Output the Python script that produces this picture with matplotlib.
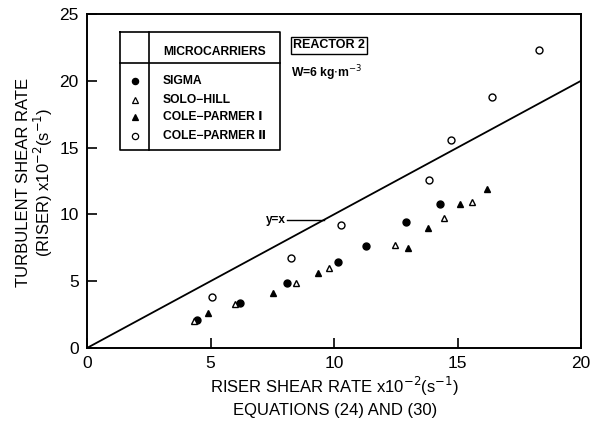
import matplotlib
matplotlib.use("Agg")
import matplotlib.pyplot as plt
from matplotlib.lines import Line2D

plt.rcParams['font.family'] = ['Liberation Sans', 'DejaVu Sans']

# Data (x = riser shear rate x1e-2, y = turbulent shear rate x1e-2)
sigma_x = [4.45, 6.2, 8.1, 10.15, 11.3, 12.9, 14.3]
sigma_y = [2.1, 3.4, 4.9, 6.4, 7.65, 9.45, 10.8]
solo_x = [4.35, 6.0, 8.45, 9.8, 12.45, 14.45, 15.6]
solo_y = [2.0, 3.3, 4.9, 6.0, 7.7, 9.7, 10.95]
cp1_x = [4.9, 7.55, 9.35, 13.0, 13.8, 15.1, 16.2]
cp1_y = [2.6, 4.15, 5.6, 7.5, 9.0, 10.8, 11.9]
cp2_x = [5.05, 8.25, 10.3, 13.85, 14.75, 16.4, 18.3]
cp2_y = [3.8, 6.75, 9.2, 12.6, 15.6, 18.8, 22.3]
xticks = [0, 5, 10, 15, 20]
yticks = [0, 5, 10, 15, 20, 25]
legend_labels = ["SIGMA", "SOLO\u2212HILL", "COLE\u2212PARMER \u2160", "COLE\u2212PARMER \u2161"]

fig = plt.figure(figsize=(6.06, 4.33), dpi=100)
W, H = 606, 433
x0, x1 = 87, 581
y0, y1 = 348, 14
ax = fig.add_axes([x0 / W, 1 - y0 / H, (x1 - x0) / W, (y0 - y1) / H])
ax.set_xlim(0, 20)
ax.set_ylim(0, 25)
for s in ax.spines.values():
    s.set_linewidth(1.4)
ax.set_xticks(xticks)
ax.set_yticks(yticks)
ax.tick_params(direction='in', length=7, width=1.2, labelsize=12.5, pad=6)

ms = 5
ax.plot([0, 20], [0, 20], color='black', lw=1.3)
ax.plot(sigma_x, sigma_y, 'o', color='black', ms=ms, mfc='black', ls='none')
ax.plot(solo_x, solo_y, '^', color='black', ms=ms, mfc='white', mew=1.0, ls='none')
ax.plot(cp1_x, cp1_y, '^', color='black', ms=ms, mfc='black', ls='none')
ax.plot(cp2_x, cp2_y, 'o', color='black', ms=ms, mfc='white', mew=1.0, ls='none')

# y=x label with leader line
ax.plot([8.1, 9.6], [9.6, 9.6], color='black', lw=1.0)
ax.text(8.05, 9.6, "y=x", ha='right', va='center', fontsize=8.5, fontweight='bold')

# Legend table (figure pixel coords)
def fx(px):
    return px / W
def fy(py):
    return 1 - py / H

lx0, lx1, ly0, ly1 = 120, 280, 32, 150
lw = 1.2
fig.add_artist(Line2D([fx(lx0), fx(lx1), fx(lx1), fx(lx0), fx(lx0)],
                      [fy(ly0), fy(ly0), fy(ly1), fy(ly1), fy(ly0)], color='black', lw=lw))
fig.add_artist(Line2D([fx(149), fx(149)], [fy(ly0), fy(ly1)], color='black', lw=lw))
fig.add_artist(Line2D([fx(lx0), fx(lx1)], [fy(63), fy(63)], color='black', lw=lw))
fig.text(fx(163), fy(52), "MICROCARRIERS", fontsize=8.7, fontweight='bold', va='center', ha='left')
rows = [81, 100, 117, 136]
marks = [('o', 'black'), ('^', 'white'), ('^', 'black'), ('o', 'white')]
for (m, fc), ry, lab in zip(marks, rows, legend_labels):
    fig.add_artist(Line2D([fx(135)], [fy(ry)], marker=m, ms=4.5, mfc=fc, mec='black',
                          mew=0.9, ls='none'))
    fig.text(fx(163), fy(ry), lab, fontsize=8.7, fontweight='bold', va='center', ha='left')

# Reactor box
fig.text(fx(329), fy(45), "REACTOR 2", fontsize=9, fontweight='bold', ha='center', va='center',
         bbox=dict(boxstyle='square,pad=0.2', fc='white', ec='black', lw=1.0))
fig.text(fx(291), fy(73), r"W=6 kg$\cdot$m$^{-3}$", fontsize=8.7, fontweight='bold',
         ha='left', va='center')

# Axis labels
fig.text(fx(335), fy(386), r"RISER SHEAR RATE x10$^{-2}$(s$^{-1}$)", fontsize=12,
         ha='center', va='center')
fig.text(fx(335), fy(411), "EQUATIONS (24) AND (30)", fontsize=12, ha='center', va='center')
fig.text(fx(24), fy(182), "TURBULENT SHEAR RATE", fontsize=12, rotation=90,
         ha='center', va='center')
fig.text(fx(43), fy(182), r"(RISER) x10$^{-2}$(s$^{-1}$)", fontsize=12, rotation=90,
         ha='center', va='center')

fig.savefig("out.png", dpi=100)
